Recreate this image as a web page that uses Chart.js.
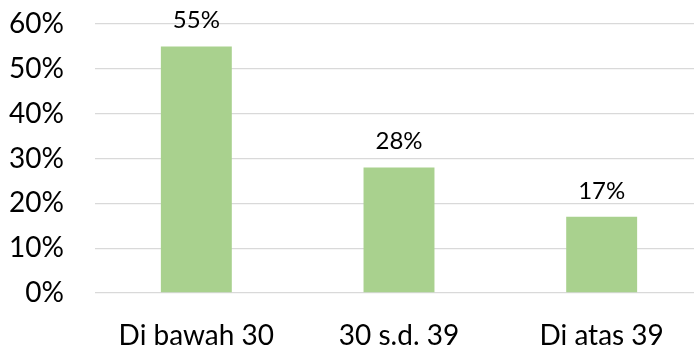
<!DOCTYPE html>
<html>
<head>
<meta charset="utf-8">
<script src="https://cdn.jsdelivr.net/npm/chart.js@4/dist/chart.umd.min.js"></script>
<style>
  html, body { margin: 0; padding: 0; background: #fff; overflow: hidden; }
  #wrap { width: 712px; height: 347px; }
</style>
</head>
<body>
<div id="wrap"><canvas id="chart" width="712" height="347"></canvas></div>
<script>
const categories = ['Di bawah 30', '30 s.d. 39', 'Di atas 39'];
const shares     = [55, 28, 17];
const yTicks     = [0, 10, 20, 30, 40, 50, 60];

const FONT = "Lato, 'Open Sans', 'Liberation Sans', sans-serif";

// value labels above the bars (no datalabels plugin offline)
const valueLabels = {
  id: 'valueLabels',
  afterDatasetsDraw(chart) {
    const ctx = chart.ctx;
    const meta = chart.getDatasetMeta(0);
    ctx.save();
    ctx.font = `24px ${FONT}`;
    ctx.fillStyle = '#000';
    ctx.textAlign = 'center';
    ctx.textBaseline = 'bottom';
    meta.data.forEach((bar, i) => {
      ctx.fillText(shares[i] + '%', bar.x, bar.y - 14);
    });
    ctx.restore();
  }
};

new Chart(document.getElementById('chart'), {
  type: 'bar',
  data: {
    labels: categories,
    datasets: [{
      data: shares,
      backgroundColor: '#A9D18E',
      borderWidth: 0,
      categoryPercentage: 1,
      barPercentage: 0.35,
    }],
  },
  options: {
    responsive: false,
    animation: false,
    layout: { padding: { top: 24, right: 9, left: 0, bottom: 0 } },
    plugins: { legend: { display: false }, tooltip: { enabled: false } },
    scales: {
      x: {
        grid: { display: false },
        border: { display: false },
        ticks: { color: '#000', font: { family: FONT, size: 28 }, padding: 18 },
        afterFit: s => { s.height = 54; },
      },
      y: {
        min: 0,
        max: 60,
        afterBuildTicks: s => { s.ticks = yTicks.map(v => ({ value: v })); },
        grid: { color: '#d9d9d9', lineWidth: 1.3, tickLength: 31, tickColor: 'rgba(0,0,0,0)' },
        border: { display: false },
        ticks: {
          color: '#000',
          font: { family: FONT, size: 28 },
          padding: 0,
          callback: v => v + '%',
        },
        afterFit: s => { s.width = 95; },
      },
    },
  },
  plugins: [valueLabels],
});
</script>
</body>
</html>
